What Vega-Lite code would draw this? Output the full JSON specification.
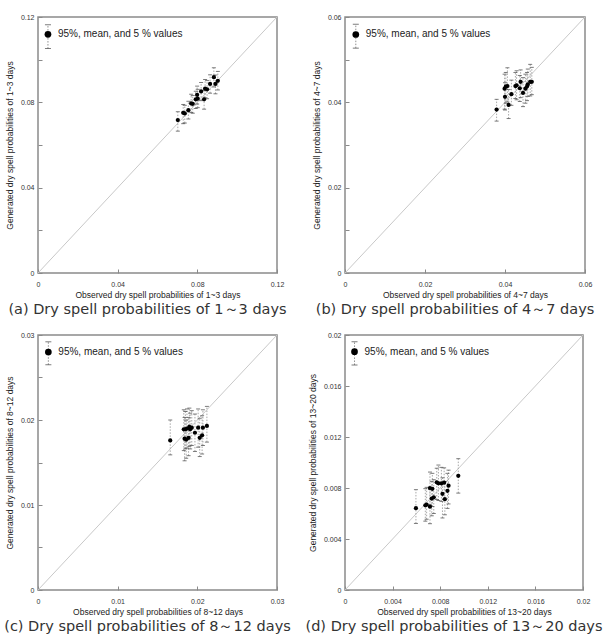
{
  "$schema": "https://vega.github.io/schema/vega-lite/v6.json",
  "padding": {"left": 3, "top": 12, "right": 0, "bottom": 0},
  "background": "white",
  "bounds": "flush",
  "columns": 2,
  "spacing": {"row": 62, "column": 68},
  "datasets": {
    "a": [
      {"x": 0.0702, "m": 0.0717, "lo": 0.0665, "hi": 0.0756},
      {"x": 0.0729, "m": 0.0751, "lo": 0.0700, "hi": 0.0790},
      {"x": 0.0737, "m": 0.0748, "lo": 0.0703, "hi": 0.0786},
      {"x": 0.0755, "m": 0.0763, "lo": 0.0722, "hi": 0.0805},
      {"x": 0.0769, "m": 0.0795, "lo": 0.0752, "hi": 0.0838},
      {"x": 0.0777, "m": 0.0793, "lo": 0.0749, "hi": 0.0832},
      {"x": 0.0792, "m": 0.0814, "lo": 0.0771, "hi": 0.0852},
      {"x": 0.0802, "m": 0.0817, "lo": 0.0775, "hi": 0.0861},
      {"x": 0.0799, "m": 0.0835, "lo": 0.0792, "hi": 0.0876},
      {"x": 0.0819, "m": 0.0851, "lo": 0.0808, "hi": 0.0893},
      {"x": 0.0834, "m": 0.0814, "lo": 0.0768, "hi": 0.0855},
      {"x": 0.0839, "m": 0.0864, "lo": 0.0821, "hi": 0.0907},
      {"x": 0.0849, "m": 0.0861, "lo": 0.0817, "hi": 0.0902},
      {"x": 0.0864, "m": 0.0886, "lo": 0.0843, "hi": 0.0929},
      {"x": 0.0883, "m": 0.0918, "lo": 0.0872, "hi": 0.0962},
      {"x": 0.0891, "m": 0.0886, "lo": 0.0840, "hi": 0.0928},
      {"x": 0.0903, "m": 0.0901, "lo": 0.0858, "hi": 0.0945}
    ],
    "b": [
      {"x": 0.0379, "m": 0.0383, "lo": 0.0356, "hi": 0.0407},
      {"x": 0.0399, "m": 0.0432, "lo": 0.0384, "hi": 0.0466},
      {"x": 0.0402, "m": 0.0437, "lo": 0.0398, "hi": 0.0470},
      {"x": 0.0406, "m": 0.0438, "lo": 0.0401, "hi": 0.0481},
      {"x": 0.0400, "m": 0.0413, "lo": 0.0382, "hi": 0.0446},
      {"x": 0.0409, "m": 0.0394, "lo": 0.0362, "hi": 0.0430},
      {"x": 0.0416, "m": 0.0419, "lo": 0.0393, "hi": 0.0452},
      {"x": 0.0426, "m": 0.0438, "lo": 0.0409, "hi": 0.0470},
      {"x": 0.0429, "m": 0.0440, "lo": 0.0406, "hi": 0.0474},
      {"x": 0.0437, "m": 0.0433, "lo": 0.0402, "hi": 0.0463},
      {"x": 0.0439, "m": 0.0448, "lo": 0.0411, "hi": 0.0476},
      {"x": 0.0445, "m": 0.0422, "lo": 0.0390, "hi": 0.0458},
      {"x": 0.0451, "m": 0.0432, "lo": 0.0398, "hi": 0.0466},
      {"x": 0.0455, "m": 0.0437, "lo": 0.0404, "hi": 0.0470},
      {"x": 0.0457, "m": 0.0442, "lo": 0.0414, "hi": 0.0478},
      {"x": 0.0463, "m": 0.0448, "lo": 0.0415, "hi": 0.0489},
      {"x": 0.0467, "m": 0.0448, "lo": 0.0418, "hi": 0.0482}
    ],
    "c": [
      {"x": 0.0166, "m": 0.0176, "lo": 0.0159, "hi": 0.0200},
      {"x": 0.0183, "m": 0.0189, "lo": 0.0164, "hi": 0.0212},
      {"x": 0.0185, "m": 0.0189, "lo": 0.0166, "hi": 0.0210},
      {"x": 0.0184, "m": 0.0178, "lo": 0.0152, "hi": 0.0203},
      {"x": 0.0186, "m": 0.0177, "lo": 0.0155, "hi": 0.0200},
      {"x": 0.0189, "m": 0.0179, "lo": 0.0158, "hi": 0.0203},
      {"x": 0.0187, "m": 0.0190, "lo": 0.0167, "hi": 0.0213},
      {"x": 0.0190, "m": 0.0192, "lo": 0.0169, "hi": 0.0214},
      {"x": 0.0191, "m": 0.0189, "lo": 0.0166, "hi": 0.0208},
      {"x": 0.0193, "m": 0.0191, "lo": 0.0170, "hi": 0.0211},
      {"x": 0.0197, "m": 0.0185, "lo": 0.0163, "hi": 0.0207},
      {"x": 0.0201, "m": 0.0191, "lo": 0.0168, "hi": 0.0213},
      {"x": 0.0203, "m": 0.0179, "lo": 0.0157, "hi": 0.0202},
      {"x": 0.0206, "m": 0.0182, "lo": 0.0160, "hi": 0.0205},
      {"x": 0.0207, "m": 0.0191, "lo": 0.0170, "hi": 0.0212},
      {"x": 0.0212, "m": 0.0193, "lo": 0.0174, "hi": 0.0216}
    ],
    "d": [
      {"x": 0.00596, "m": 0.00642, "lo": 0.00522, "hi": 0.00787},
      {"x": 0.00675, "m": 0.00664, "lo": 0.00540, "hi": 0.00795},
      {"x": 0.00686, "m": 0.00669, "lo": 0.00555, "hi": 0.00805},
      {"x": 0.00714, "m": 0.00653, "lo": 0.00520, "hi": 0.00790},
      {"x": 0.00714, "m": 0.00800, "lo": 0.00668, "hi": 0.00925},
      {"x": 0.00734, "m": 0.00794, "lo": 0.00655, "hi": 0.00915},
      {"x": 0.00729, "m": 0.00717, "lo": 0.00582, "hi": 0.00852},
      {"x": 0.00746, "m": 0.00727, "lo": 0.00600, "hi": 0.00865},
      {"x": 0.00771, "m": 0.00845, "lo": 0.00710, "hi": 0.00955},
      {"x": 0.00785, "m": 0.00837, "lo": 0.00702, "hi": 0.00980},
      {"x": 0.00810, "m": 0.00837, "lo": 0.00695, "hi": 0.00962},
      {"x": 0.00833, "m": 0.00842, "lo": 0.00712, "hi": 0.00958},
      {"x": 0.00819, "m": 0.00754, "lo": 0.00565, "hi": 0.00880},
      {"x": 0.00839, "m": 0.00712, "lo": 0.00590, "hi": 0.00850},
      {"x": 0.00861, "m": 0.00778, "lo": 0.00640, "hi": 0.00915},
      {"x": 0.00870, "m": 0.00818, "lo": 0.00675, "hi": 0.00940},
      {"x": 0.00952, "m": 0.00896, "lo": 0.00760, "hi": 0.01030}
    ],
    "keyA": [{"x": 0.0050, "m": 0.1119, "lo": 0.1052, "hi": 0.1164, "label": "95%, mean, and 5 % values"}],
    "keyB": [{"x": 0.0027, "m": 0.0559, "lo": 0.0527, "hi": 0.0583, "label": "95%, mean, and 5 % values"}],
    "keyC": [{"x": 0.0013, "m": 0.0280, "lo": 0.0265, "hi": 0.0292, "label": "95%, mean, and 5 % values"}],
    "keyD": [{"x": 0.0008, "m": 0.01869, "lo": 0.01765, "hi": 0.01948, "label": "95%, mean, and 5 % values"}]
  },
  "concat": [
    {
      "width": 239, "height": 256,
      "title": {"text": "(a) Dry spell probabilities of 1～3 days"},
      "layer": [
        {
          "data": {"values": [{"x": 0, "m": 0}, {"x": 0.12, "m": 0.12}]},
          "mark": {"type": "line", "color": "#c8c8c8", "strokeWidth": 1},
          "encoding": {
            "x": {"field": "x", "type": "quantitative", "title": "Observed dry spell probabilities of 1~3 days",
                  "scale": {"domain": [0, 0.12], "nice": false},
                  "axis": {"values": [0, 0.02, 0.04, 0.06, 0.08, 0.1, 0.12], "labelExpr": "abs(datum.value/0.04 - round(datum.value/0.04)) < 0.01 ? format(datum.value, '~g') : ''"}},
            "y": {"field": "m", "type": "quantitative", "title": "Generated dry spell probabilities of 1~3 days",
                  "scale": {"domain": [0, 0.12], "nice": false},
                  "axis": {"values": [0, 0.02, 0.04, 0.06, 0.08, 0.1, 0.12], "labelExpr": "abs(datum.value/0.04 - round(datum.value/0.04)) < 0.01 ? format(datum.value, '~g') : ''"}}
          }
        },
        {
          "data": {"name": "a"},
          "mark": {"type": "rule", "color": "#a8a8a8", "strokeWidth": 1, "strokeDash": [1.5, 1.5]},
          "encoding": {
            "x": {"field": "x", "type": "quantitative", "title": "Observed dry spell probabilities of 1~3 days"},
            "y": {"field": "lo", "type": "quantitative", "title": "Generated dry spell probabilities of 1~3 days"},
            "y2": {"field": "hi"}
          }
        },
        {
          "data": {"name": "a"},
          "transform": [{"fold": ["lo", "hi"], "as": ["bound", "cap"]}],
          "mark": {"type": "tick", "orient": "horizontal", "color": "#444", "size": 4, "thickness": 1},
          "encoding": {
            "x": {"field": "x", "type": "quantitative", "title": "Observed dry spell probabilities of 1~3 days"},
            "y": {"field": "cap", "type": "quantitative", "title": "Generated dry spell probabilities of 1~3 days"}
          }
        },
        {
          "data": {"name": "a"},
          "mark": {"type": "circle", "color": "black", "size": 18, "opacity": 1},
          "encoding": {
            "x": {"field": "x", "type": "quantitative", "title": "Observed dry spell probabilities of 1~3 days"},
            "y": {"field": "m", "type": "quantitative", "title": "Generated dry spell probabilities of 1~3 days"}
          }
        },
        {
          "data": {"name": "keyA"},
          "mark": {"type": "rule", "color": "#909090", "strokeWidth": 1, "strokeDash": [1.5, 1.5]},
          "encoding": {
            "x": {"field": "x", "type": "quantitative", "title": "Observed dry spell probabilities of 1~3 days"},
            "y": {"field": "lo", "type": "quantitative", "title": "Generated dry spell probabilities of 1~3 days"},
            "y2": {"field": "hi"}
          }
        },
        {
          "data": {"name": "keyA"},
          "transform": [{"fold": ["lo", "hi"], "as": ["bound", "cap"]}],
          "mark": {"type": "tick", "orient": "horizontal", "color": "#444", "size": 6, "thickness": 1},
          "encoding": {
            "x": {"field": "x", "type": "quantitative", "title": "Observed dry spell probabilities of 1~3 days"},
            "y": {"field": "cap", "type": "quantitative", "title": "Generated dry spell probabilities of 1~3 days"}
          }
        },
        {
          "data": {"name": "keyA"},
          "mark": {"type": "circle", "color": "black", "size": 45, "opacity": 1},
          "encoding": {
            "x": {"field": "x", "type": "quantitative", "title": "Observed dry spell probabilities of 1~3 days"},
            "y": {"field": "m", "type": "quantitative", "title": "Generated dry spell probabilities of 1~3 days"}
          }
        },
        {
          "data": {"name": "keyA"},
          "mark": {"type": "text", "align": "left", "baseline": "middle", "dx": 10, "fontSize": 10, "font": "Liberation Sans", "color": "#222"},
          "encoding": {
            "x": {"field": "x", "type": "quantitative", "title": "Observed dry spell probabilities of 1~3 days"},
            "y": {"field": "m", "type": "quantitative", "title": "Generated dry spell probabilities of 1~3 days"},
            "text": {"field": "label"}
          }
        }
      ]
    },
    {
      "width": 240, "height": 256,
      "title": {"text": "(b) Dry spell probabilities of 4～7 days"},
      "layer": [
        {
          "data": {"values": [{"x": 0, "m": 0}, {"x": 0.06, "m": 0.06}]},
          "mark": {"type": "line", "color": "#c8c8c8", "strokeWidth": 1},
          "encoding": {
            "x": {"field": "x", "type": "quantitative", "title": "Observed dry spell probabilities of 4~7 days",
                  "scale": {"domain": [0, 0.06], "nice": false},
                  "axis": {"values": [0, 0.01, 0.02, 0.03, 0.04, 0.05, 0.06], "labelExpr": "abs(datum.value/0.02 - round(datum.value/0.02)) < 0.01 ? format(datum.value, '~g') : ''"}},
            "y": {"field": "m", "type": "quantitative", "title": "Generated dry spell probabilities of 4~7 days",
                  "scale": {"domain": [0, 0.06], "nice": false},
                  "axis": {"values": [0, 0.01, 0.02, 0.03, 0.04, 0.05, 0.06], "labelExpr": "abs(datum.value/0.02 - round(datum.value/0.02)) < 0.01 ? format(datum.value, '~g') : ''"}}
          }
        },
        {
          "data": {"name": "b"},
          "mark": {"type": "rule", "color": "#a8a8a8", "strokeWidth": 1, "strokeDash": [1.5, 1.5]},
          "encoding": {
            "x": {"field": "x", "type": "quantitative", "title": "Observed dry spell probabilities of 4~7 days"},
            "y": {"field": "lo", "type": "quantitative", "title": "Generated dry spell probabilities of 4~7 days"},
            "y2": {"field": "hi"}
          }
        },
        {
          "data": {"name": "b"},
          "transform": [{"fold": ["lo", "hi"], "as": ["bound", "cap"]}],
          "mark": {"type": "tick", "orient": "horizontal", "color": "#444", "size": 4, "thickness": 1},
          "encoding": {
            "x": {"field": "x", "type": "quantitative", "title": "Observed dry spell probabilities of 4~7 days"},
            "y": {"field": "cap", "type": "quantitative", "title": "Generated dry spell probabilities of 4~7 days"}
          }
        },
        {
          "data": {"name": "b"},
          "mark": {"type": "circle", "color": "black", "size": 18, "opacity": 1},
          "encoding": {
            "x": {"field": "x", "type": "quantitative", "title": "Observed dry spell probabilities of 4~7 days"},
            "y": {"field": "m", "type": "quantitative", "title": "Generated dry spell probabilities of 4~7 days"}
          }
        },
        {
          "data": {"name": "keyB"},
          "mark": {"type": "rule", "color": "#909090", "strokeWidth": 1, "strokeDash": [1.5, 1.5]},
          "encoding": {
            "x": {"field": "x", "type": "quantitative", "title": "Observed dry spell probabilities of 4~7 days"},
            "y": {"field": "lo", "type": "quantitative", "title": "Generated dry spell probabilities of 4~7 days"},
            "y2": {"field": "hi"}
          }
        },
        {
          "data": {"name": "keyB"},
          "transform": [{"fold": ["lo", "hi"], "as": ["bound", "cap"]}],
          "mark": {"type": "tick", "orient": "horizontal", "color": "#444", "size": 6, "thickness": 1},
          "encoding": {
            "x": {"field": "x", "type": "quantitative", "title": "Observed dry spell probabilities of 4~7 days"},
            "y": {"field": "cap", "type": "quantitative", "title": "Generated dry spell probabilities of 4~7 days"}
          }
        },
        {
          "data": {"name": "keyB"},
          "mark": {"type": "circle", "color": "black", "size": 45, "opacity": 1},
          "encoding": {
            "x": {"field": "x", "type": "quantitative", "title": "Observed dry spell probabilities of 4~7 days"},
            "y": {"field": "m", "type": "quantitative", "title": "Generated dry spell probabilities of 4~7 days"}
          }
        },
        {
          "data": {"name": "keyB"},
          "mark": {"type": "text", "align": "left", "baseline": "middle", "dx": 10, "fontSize": 10, "font": "Liberation Sans", "color": "#222"},
          "encoding": {
            "x": {"field": "x", "type": "quantitative", "title": "Observed dry spell probabilities of 4~7 days"},
            "y": {"field": "m", "type": "quantitative", "title": "Generated dry spell probabilities of 4~7 days"},
            "text": {"field": "label"}
          }
        }
      ]
    },
    {
      "width": 239, "height": 255,
      "title": {"text": "(c) Dry spell probabilities of 8～12 days"},
      "layer": [
        {
          "data": {"values": [{"x": 0, "m": 0}, {"x": 0.03, "m": 0.03}]},
          "mark": {"type": "line", "color": "#c8c8c8", "strokeWidth": 1},
          "encoding": {
            "x": {"field": "x", "type": "quantitative", "title": "Observed dry spell probabilities of 8~12 days",
                  "scale": {"domain": [0, 0.03], "nice": false},
                  "axis": {"values": [0, 0.005, 0.01, 0.015, 0.02, 0.025, 0.03], "labelExpr": "abs(datum.value/0.01 - round(datum.value/0.01)) < 0.01 ? format(datum.value, '~g') : ''"}},
            "y": {"field": "m", "type": "quantitative", "title": "Generated dry spell probabilities of 8~12 days",
                  "scale": {"domain": [0, 0.03], "nice": false},
                  "axis": {"values": [0, 0.005, 0.01, 0.015, 0.02, 0.025, 0.03], "labelExpr": "abs(datum.value/0.01 - round(datum.value/0.01)) < 0.01 ? format(datum.value, '~g') : ''"}}
          }
        },
        {
          "data": {"name": "c"},
          "mark": {"type": "rule", "color": "#a8a8a8", "strokeWidth": 1, "strokeDash": [1.5, 1.5]},
          "encoding": {
            "x": {"field": "x", "type": "quantitative", "title": "Observed dry spell probabilities of 8~12 days"},
            "y": {"field": "lo", "type": "quantitative", "title": "Generated dry spell probabilities of 8~12 days"},
            "y2": {"field": "hi"}
          }
        },
        {
          "data": {"name": "c"},
          "transform": [{"fold": ["lo", "hi"], "as": ["bound", "cap"]}],
          "mark": {"type": "tick", "orient": "horizontal", "color": "#444", "size": 4, "thickness": 1},
          "encoding": {
            "x": {"field": "x", "type": "quantitative", "title": "Observed dry spell probabilities of 8~12 days"},
            "y": {"field": "cap", "type": "quantitative", "title": "Generated dry spell probabilities of 8~12 days"}
          }
        },
        {
          "data": {"name": "c"},
          "mark": {"type": "circle", "color": "black", "size": 18, "opacity": 1},
          "encoding": {
            "x": {"field": "x", "type": "quantitative", "title": "Observed dry spell probabilities of 8~12 days"},
            "y": {"field": "m", "type": "quantitative", "title": "Generated dry spell probabilities of 8~12 days"}
          }
        },
        {
          "data": {"name": "keyC"},
          "mark": {"type": "rule", "color": "#909090", "strokeWidth": 1, "strokeDash": [1.5, 1.5]},
          "encoding": {
            "x": {"field": "x", "type": "quantitative", "title": "Observed dry spell probabilities of 8~12 days"},
            "y": {"field": "lo", "type": "quantitative", "title": "Generated dry spell probabilities of 8~12 days"},
            "y2": {"field": "hi"}
          }
        },
        {
          "data": {"name": "keyC"},
          "transform": [{"fold": ["lo", "hi"], "as": ["bound", "cap"]}],
          "mark": {"type": "tick", "orient": "horizontal", "color": "#444", "size": 6, "thickness": 1},
          "encoding": {
            "x": {"field": "x", "type": "quantitative", "title": "Observed dry spell probabilities of 8~12 days"},
            "y": {"field": "cap", "type": "quantitative", "title": "Generated dry spell probabilities of 8~12 days"}
          }
        },
        {
          "data": {"name": "keyC"},
          "mark": {"type": "circle", "color": "black", "size": 45, "opacity": 1},
          "encoding": {
            "x": {"field": "x", "type": "quantitative", "title": "Observed dry spell probabilities of 8~12 days"},
            "y": {"field": "m", "type": "quantitative", "title": "Generated dry spell probabilities of 8~12 days"}
          }
        },
        {
          "data": {"name": "keyC"},
          "mark": {"type": "text", "align": "left", "baseline": "middle", "dx": 10, "fontSize": 10, "font": "Liberation Sans", "color": "#222"},
          "encoding": {
            "x": {"field": "x", "type": "quantitative", "title": "Observed dry spell probabilities of 8~12 days"},
            "y": {"field": "m", "type": "quantitative", "title": "Generated dry spell probabilities of 8~12 days"},
            "text": {"field": "label"}
          }
        }
      ]
    },
    {
      "width": 238, "height": 255,
      "title": {"text": "(d) Dry spell probabilities of 13～20 days"},
      "layer": [
        {
          "data": {"values": [{"x": 0, "m": 0}, {"x": 0.02, "m": 0.02}]},
          "mark": {"type": "line", "color": "#c8c8c8", "strokeWidth": 1},
          "encoding": {
            "x": {"field": "x", "type": "quantitative", "title": "Observed dry spell probabilities of 13~20 days",
                  "scale": {"domain": [0, 0.02], "nice": false},
                  "axis": {"values": [0, 0.002, 0.004, 0.006, 0.008, 0.01, 0.012, 0.014, 0.016, 0.018, 0.02], "labelExpr": "abs(datum.value/0.004 - round(datum.value/0.004)) < 0.01 ? format(datum.value, '~g') : ''"}},
            "y": {"field": "m", "type": "quantitative", "title": "Generated dry spell probabilities of 13~20 days",
                  "scale": {"domain": [0, 0.02], "nice": false},
                  "axis": {"values": [0, 0.002, 0.004, 0.006, 0.008, 0.01, 0.012, 0.014, 0.016, 0.018, 0.02], "labelExpr": "abs(datum.value/0.004 - round(datum.value/0.004)) < 0.01 ? format(datum.value, '~g') : ''"}}
          }
        },
        {
          "data": {"name": "d"},
          "mark": {"type": "rule", "color": "#a8a8a8", "strokeWidth": 1, "strokeDash": [1.5, 1.5]},
          "encoding": {
            "x": {"field": "x", "type": "quantitative", "title": "Observed dry spell probabilities of 13~20 days"},
            "y": {"field": "lo", "type": "quantitative", "title": "Generated dry spell probabilities of 13~20 days"},
            "y2": {"field": "hi"}
          }
        },
        {
          "data": {"name": "d"},
          "transform": [{"fold": ["lo", "hi"], "as": ["bound", "cap"]}],
          "mark": {"type": "tick", "orient": "horizontal", "color": "#444", "size": 4, "thickness": 1},
          "encoding": {
            "x": {"field": "x", "type": "quantitative", "title": "Observed dry spell probabilities of 13~20 days"},
            "y": {"field": "cap", "type": "quantitative", "title": "Generated dry spell probabilities of 13~20 days"}
          }
        },
        {
          "data": {"name": "d"},
          "mark": {"type": "circle", "color": "black", "size": 18, "opacity": 1},
          "encoding": {
            "x": {"field": "x", "type": "quantitative", "title": "Observed dry spell probabilities of 13~20 days"},
            "y": {"field": "m", "type": "quantitative", "title": "Generated dry spell probabilities of 13~20 days"}
          }
        },
        {
          "data": {"name": "keyD"},
          "mark": {"type": "rule", "color": "#909090", "strokeWidth": 1, "strokeDash": [1.5, 1.5]},
          "encoding": {
            "x": {"field": "x", "type": "quantitative", "title": "Observed dry spell probabilities of 13~20 days"},
            "y": {"field": "lo", "type": "quantitative", "title": "Generated dry spell probabilities of 13~20 days"},
            "y2": {"field": "hi"}
          }
        },
        {
          "data": {"name": "keyD"},
          "transform": [{"fold": ["lo", "hi"], "as": ["bound", "cap"]}],
          "mark": {"type": "tick", "orient": "horizontal", "color": "#444", "size": 6, "thickness": 1},
          "encoding": {
            "x": {"field": "x", "type": "quantitative", "title": "Observed dry spell probabilities of 13~20 days"},
            "y": {"field": "cap", "type": "quantitative", "title": "Generated dry spell probabilities of 13~20 days"}
          }
        },
        {
          "data": {"name": "keyD"},
          "mark": {"type": "circle", "color": "black", "size": 45, "opacity": 1},
          "encoding": {
            "x": {"field": "x", "type": "quantitative", "title": "Observed dry spell probabilities of 13~20 days"},
            "y": {"field": "m", "type": "quantitative", "title": "Generated dry spell probabilities of 13~20 days"}
          }
        },
        {
          "data": {"name": "keyD"},
          "mark": {"type": "text", "align": "left", "baseline": "middle", "dx": 10, "fontSize": 10, "font": "Liberation Sans", "color": "#222"},
          "encoding": {
            "x": {"field": "x", "type": "quantitative", "title": "Observed dry spell probabilities of 13~20 days"},
            "y": {"field": "m", "type": "quantitative", "title": "Generated dry spell probabilities of 13~20 days"},
            "text": {"field": "label"}
          }
        }
      ]
    }
  ],
  "config": {
    "view": {"stroke": "#8a8a8a", "strokeWidth": 1.5},
    "title": {"orient": "bottom", "anchor": "middle", "frame": "group", "font": "DejaVu Sans", "fontSize": 14.5, "fontWeight": "normal", "color": "#333", "offset": 4, "dx": -10},
    "axis": {
      "domain": false, "grid": false,
      "tickSize": -4, "tickColor": "#8a8a8a", "tickWidth": 1,
      "labelFont": "Liberation Sans", "labelFontSize": 7, "labelColor": "#333", "labelFlush": false, "labelOverlap": false,
      "titleFont": "Liberation Sans", "titleFontSize": 8.5, "titleFontWeight": "normal", "titleColor": "#222"
    },
    "axisX": {"labelPadding": 11, "titlePadding": 3},
    "axisY": {"labelPadding": 8, "titlePadding": 6}
  }
}
